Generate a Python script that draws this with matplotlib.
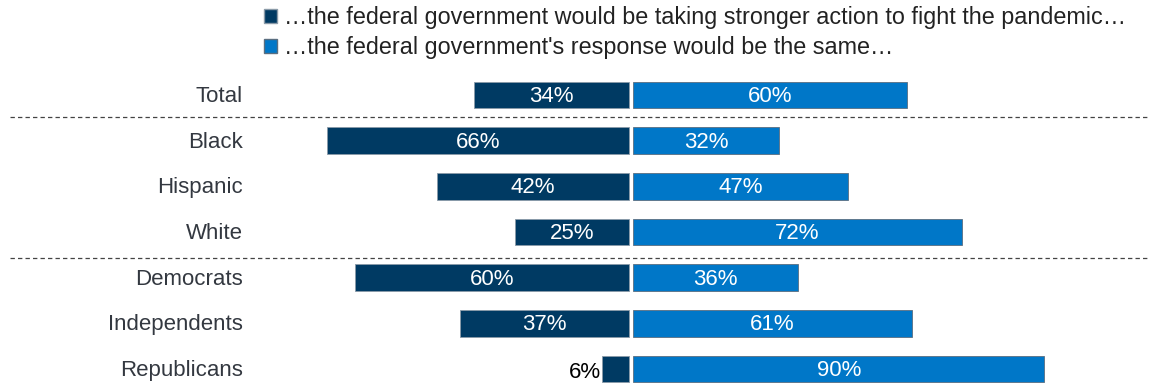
import matplotlib
matplotlib.use("Agg")
import matplotlib.pyplot as plt
from matplotlib.patches import Patch

plt.rcParams["font.family"] = ["Liberation Sans", "DejaVu Sans"]

groups = ["Total", "Black", "Hispanic", "White", "Democrats", "Independents", "Republicans"]
stronger = [34, 66, 42, 25, 60, 37, 6]
same = [60, 32, 47, 72, 36, 61, 90]
legend_labels = ["\u2026the federal government would be taking stronger action to fight the pandemic\u2026",
                 "\u2026the federal government's response would be the same\u2026"]

dark = "#003a63"
light = "#0077c8"
txt = "#333840"
gap = 0.45
px = 4.57  # pixels per percentage point
fs = 16

fig = plt.figure(figsize=(11.54, 3.85), dpi=100)
ax = fig.add_axes([0, 0, 1, 1])
ax.set_xlim(-631 / px, (1154 - 631) / px)
ax.set_ylim(6.35, -2.08)
ax.axis("off")

y = list(range(len(groups)))
h = 0.59
ax.barh(y, stronger, left=[-v - gap for v in stronger], height=h, color=dark,
        edgecolor="#8a9aa8", linewidth=0.6)
ax.barh(y, same, left=gap, height=h, color=light, edgecolor="#5a6e80", linewidth=0.6)

for i, (s, m) in enumerate(zip(stronger, same)):
    if s >= 10:
        ax.text(-s / 2 - gap, i + 0.03, f"{s}%", color="white", ha="center", va="center", fontsize=fs)
    else:
        ax.text(-s - gap - 0.1, i + 0.08, f"{s}%", color="black", ha="right", va="center", fontsize=fs)
    ax.text(m / 2 + gap, i + 0.03, f"{m}%", color="white", ha="center", va="center", fontsize=fs)
    ax.text((243 - 631) / px, i + 0.03, groups[i], ha="right", va="center", fontsize=fs, color=txt)

for yl in [0.49, 3.57]:
    ax.plot([(10 - 631) / px, (1148 - 631) / px], [yl, yl], color="#444444",
            linestyle=(0, (3.5, 2.5)), linewidth=0.9)

handles = [Patch(facecolor=dark, edgecolor="#8a9aa8"), Patch(facecolor=light, edgecolor="#5a6e80")]
leg = fig.legend(handles, legend_labels, loc="upper left", bbox_to_anchor=(264 / 1154, 1 - 6 / 385),
                 frameon=False, fontsize=16.8, handlelength=0.55, handleheight=0.55, handletextpad=0.3,
                 labelspacing=0.3, borderaxespad=0, borderpad=0)
for t in leg.get_texts():
    t.set_color("#222222")

fig.savefig("out.png", dpi=100)
